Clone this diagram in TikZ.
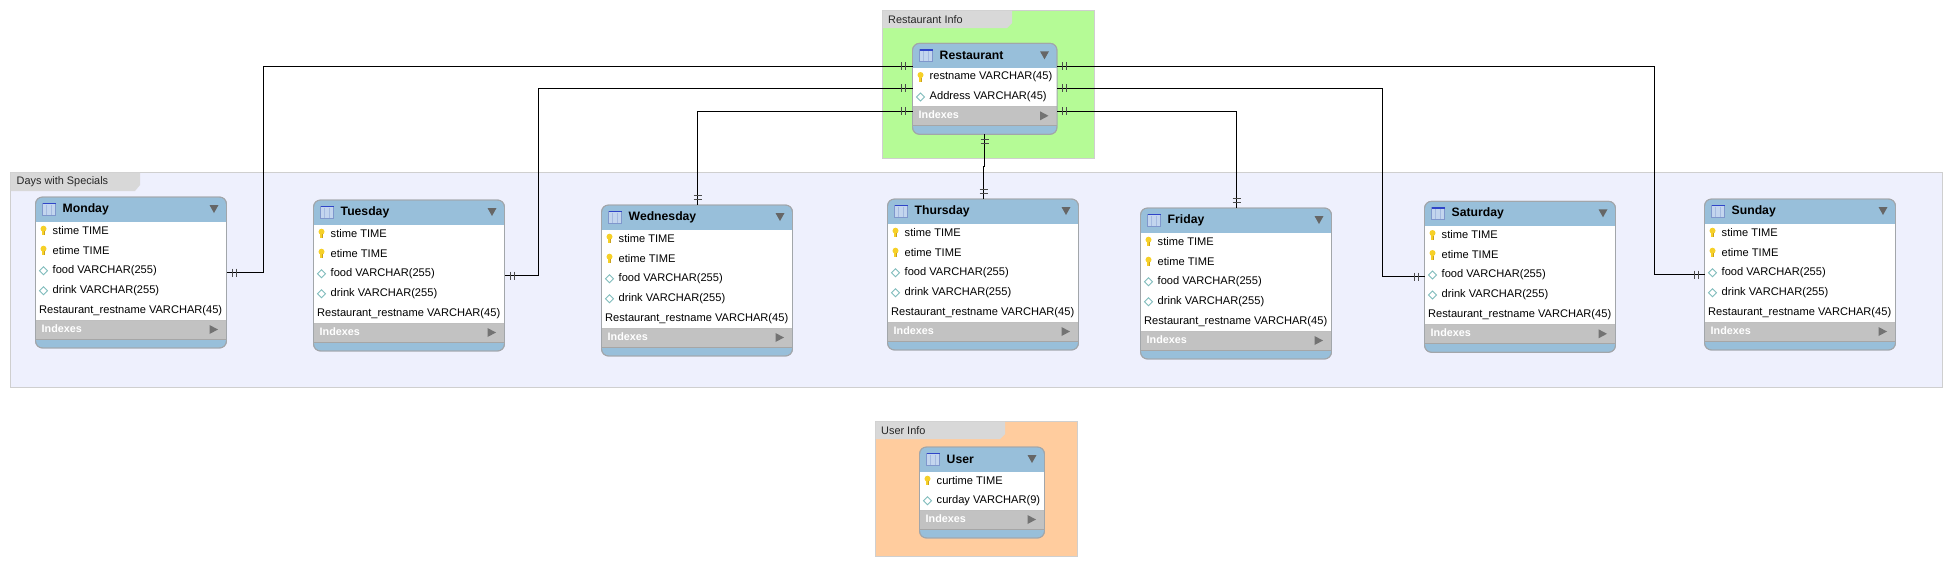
\documentclass[tikz,border=0pt]{standalone}
\usepackage{fontspec}
\setmainfont{Liberation Sans}
\definecolor{hdr}{HTML}{98BFDA}
\definecolor{edge}{HTML}{A2A6AA}
\definecolor{idx}{HTML}{C2C2C2}
\definecolor{tabg}{HTML}{D8D8D8}
\definecolor{lay}{HTML}{CFCFCF}
\definecolor{keyc}{HTML}{F6D028}
\definecolor{keyd}{HTML}{C9A020}
\definecolor{dia}{HTML}{7FBCBC}
\definecolor{lgreen}{HTML}{B5FB96}
\definecolor{lblue}{HTML}{EEF0FD}
\definecolor{lorange}{HTML}{FFCC9E}
\definecolor{icfill}{HTML}{C3D5EE}
\definecolor{ictop}{HTML}{2F45C8}
\definecolor{icline}{HTML}{7F97CC}
\definecolor{iccol}{HTML}{A5BAE0}
\tikzset{
  x=1pt,y=-1pt,
  layerbox/.style={draw=lay,line width=0.8pt},
  layertab/.style={fill=tabg},
  layerlabel/.style={anchor=west,inner sep=0pt,font=\fontsize{10.9}{12}\selectfont,text=black!85},
  tablebox/.style={draw=edge,line width=0.9pt,rounded corners=7pt,anchor=north west,inner sep=0pt,outer sep=0pt},
  tabletitle/.style={anchor=west,inner sep=0pt,font=\fontsize{12.2}{14}\bfseries\selectfont},
  rowtext/.style={anchor=west,inner sep=0pt,font=\fontsize{11.1}{12}\selectfont},
  idxtext/.style={anchor=west,inner sep=0pt,text=white,font=\fontsize{10.8}{12}\bfseries\selectfont},
  link/.style={draw=black,line width=0.85pt},
  barmark/.style={draw=black!70,line width=0.85pt}
}
\newcommand{\keyicon}[2]{%
  \fill[keyc] (#1,#2-2) circle (3pt);
  \fill[keyc] (#1-1.4,#2-1) rectangle (#1+1.4,#2+4.5);
  \fill[keyd] (#1+0.3,#2+0.5) rectangle (#1+1.4,#2+4.5);}
\newcommand{\diaicon}[2]{%
  \draw[dia,fill=white,line width=0.8pt] (#1-4,#2) -- (#1,#2-4) -- (#1+4,#2) -- (#1,#2+4) -- cycle;}
% \ertable{name}{x}{y}{w}{title}{nrows}{rowsmacro}
\newcommand{\ertable}[7]{%
  \pgfmathsetmacro{\tw}{#4}\pgfmathsetmacro{\tbot}{23+20*#6}%
  \pgfmathsetmacro{\tgrey}{\tbot+19}\pgfmathsetmacro{\th}{\tgrey+9}%
  \node[tablebox,fill=hdr,minimum width=\tw pt,minimum height=\th pt] (#1) at (#2,#3) {};
  \fill[white] (#2,#3+25) rectangle (#2+\tw,#3+\tbot);
  \fill[idx] (#2,#3+\tbot) rectangle (#2+\tw,#3+\tgrey);
  \draw[white!75!black,line width=0.7pt] (#2,#3+\tbot) -- (#2+\tw,#3+\tbot);
  \draw[white!65!black,line width=0.6pt] (#2,#3+\tgrey) -- (#2+\tw,#3+\tgrey);
  \node[tablebox,minimum width=\tw pt,minimum height=\th pt] (#1-frame) at (#2,#3) {};
  \fill[icfill] (#2+7,#3+6) rectangle (#2+20,#3+18.5);
  \draw[iccol,line width=0.7pt] (#2+11.3,#3+7.5) -- (#2+11.3,#3+18) (#2+15.6,#3+7.5) -- (#2+15.6,#3+18);
  \draw[icline,line width=0.7pt] (#2+7,#3+6) rectangle (#2+20,#3+18.5);
  \fill[ictop] (#2+7,#3+6) rectangle (#2+20,#3+7.3);
  \node[tabletitle] (#1-title) at (#2+27,#3+12.4) {#5};
  \fill[black!60] (#2+\tw-17,#3+8) -- (#2+\tw-8,#3+8) -- (#2+\tw-12.5,#3+16) -- cycle;
  \foreach \kind/\txt [count=\ri] in #7{%
    \pgfmathsetmacro{\ry}{#3+13.7+20*\ri}%
    \ifnum\kind=1 \keyicon{#2+8}{\ry}\node[rowtext] (#1-r\ri) at (#2+17,\ry) {\txt};\fi
    \ifnum\kind=2 \diaicon{#2+8}{\ry}\node[rowtext] (#1-r\ri) at (#2+17,\ry) {\txt};\fi
    \ifnum\kind=0 \node[rowtext] (#1-r\ri) at (#2+3.5,\ry) {\txt};\fi
  }
  \node[idxtext] (#1-idx) at (#2+6,#3+\tbot+8.5) {Indexes};
  \fill[black!55] (#2+\tw-17,#3+\tbot+5) -- (#2+\tw-8.5,#3+\tbot+9.5) -- (#2+\tw-17,#3+\tbot+14) -- cycle;
}
\newcommand{\dayrows}{1/stime TIME,1/etime TIME,2/food VARCHAR(255),2/drink VARCHAR(255),0/Restaurant\_restname VARCHAR(45)}
\newcommand{\restrows}{1/restname VARCHAR(45),2/Address VARCHAR(45)}
\newcommand{\userrows}{1/curtime TIME,2/curday VARCHAR(9)}
\newcommand{\ticksh}[2]{\draw[barmark] (#1-2,#2-4) -- (#1-2,#2+4) (#1+2,#2-4) -- (#1+2,#2+4);}
\newcommand{\ticksv}[2]{\draw[barmark] (#1-4,#2-2) -- (#1+4,#2-2) (#1-4,#2+2) -- (#1+4,#2+2);}
\begin{document}
\begin{tikzpicture}
\useasboundingbox (0,0) rectangle (1952,566);
\fill[white] (0,0) rectangle (1952,566);
\draw[layerbox,fill=lgreen] (882.5,10.5) rectangle (1094.5,158.5);
\fill[layertab] (882.5,10.5) -- (1012,10.5) -- (1012,23) -- (1007,28) -- (882.5,28) -- cycle;
\node[layerlabel] (restlabel) at (888,19.5) {Restaurant Info};
\draw[layerbox,fill=lblue] (10.5,172.5) rectangle (1942.5,387.5);
\fill[layertab] (10.5,172.5) -- (140,172.5) -- (140,185) -- (135,191) -- (10.5,191) -- cycle;
\node[layerlabel] (dayslabel) at (16.5,181.8) {Days with Specials};
\draw[layerbox,fill=lorange] (875.5,421.5) rectangle (1077.5,556.5);
\fill[layertab] (875.5,421.5) -- (1005,421.5) -- (1005,434) -- (1000,439) -- (875.5,439) -- cycle;
\node[layerlabel] (userlabel) at (881,430.5) {User Info};
% tables
\ertable{restaurant}{912.5}{43.3}{144.5}{Restaurant}{2}{\restrows}
\ertable{monday}{35.5}{197}{191}{Monday}{5}{\dayrows}
\ertable{tuesday}{313.5}{200}{191}{Tuesday}{5}{\dayrows}
\ertable{wednesday}{601.5}{205}{191}{Wednesday}{5}{\dayrows}
\ertable{thursday}{887.5}{199}{191}{Thursday}{5}{\dayrows}
\ertable{friday}{1140.5}{208}{191}{Friday}{5}{\dayrows}
\ertable{saturday}{1424.5}{201.3}{191}{Saturday}{5}{\dayrows}
\ertable{sunday}{1704.5}{199}{191}{Sunday}{5}{\dayrows}
\ertable{user}{919.5}{447}{125}{User}{2}{\userrows}
% connectors
\coordinate (m1) at (263.5,66);\coordinate (m2) at (263.5,272.5);
\draw[link] (restaurant.north west |- m1) -- (m1) -- (m2) -- (monday.east |- m2);
\coordinate (t1) at (538.5,88);\coordinate (t2) at (538.5,275.5);
\draw[link] (restaurant.north west |- t1) -- (t1) -- (t2) -- (tuesday.east |- t2);
\coordinate (w1) at (697.5,111);
\draw[link] (restaurant.north west |- w1) -- (w1) -- (w1 |- wednesday.north);
\coordinate (s1) at (1654.5,66);\coordinate (s2) at (1654.5,274.5);
\draw[link] (restaurant.north east |- s1) -- (s1) -- (s2) -- (sunday.west |- s2);
\coordinate (a1) at (1382.5,88);\coordinate (a2) at (1382.5,276.5);
\draw[link] (restaurant.north east |- a1) -- (a1) -- (a2) -- (saturday.west |- a2);
\coordinate (f1) at (1236.5,111);
\draw[link] (restaurant.north east |- f1) -- (f1) -- (f1 |- friday.north);
\coordinate (h1) at (984.5,166);\coordinate (h2) at (983.5,166);
\draw[link] (h1 |- restaurant.south) -- (h1) -- (h2) -- (h2 |- thursday.north);
% bar marks
\foreach \yy in {66,88,111}{\ticksh{903.5}{\yy}\ticksh{1064.2}{\yy}}
\ticksh{234}{272.5}\ticksh{512.5}{275.5}\ticksh{1416}{276.5}\ticksh{1696}{274.5}
\ticksv{984.5}{141}\ticksv{983.5}{191}\ticksv{697.5}{197}\ticksv{1236.5}{200}
\end{tikzpicture}
\end{document}
